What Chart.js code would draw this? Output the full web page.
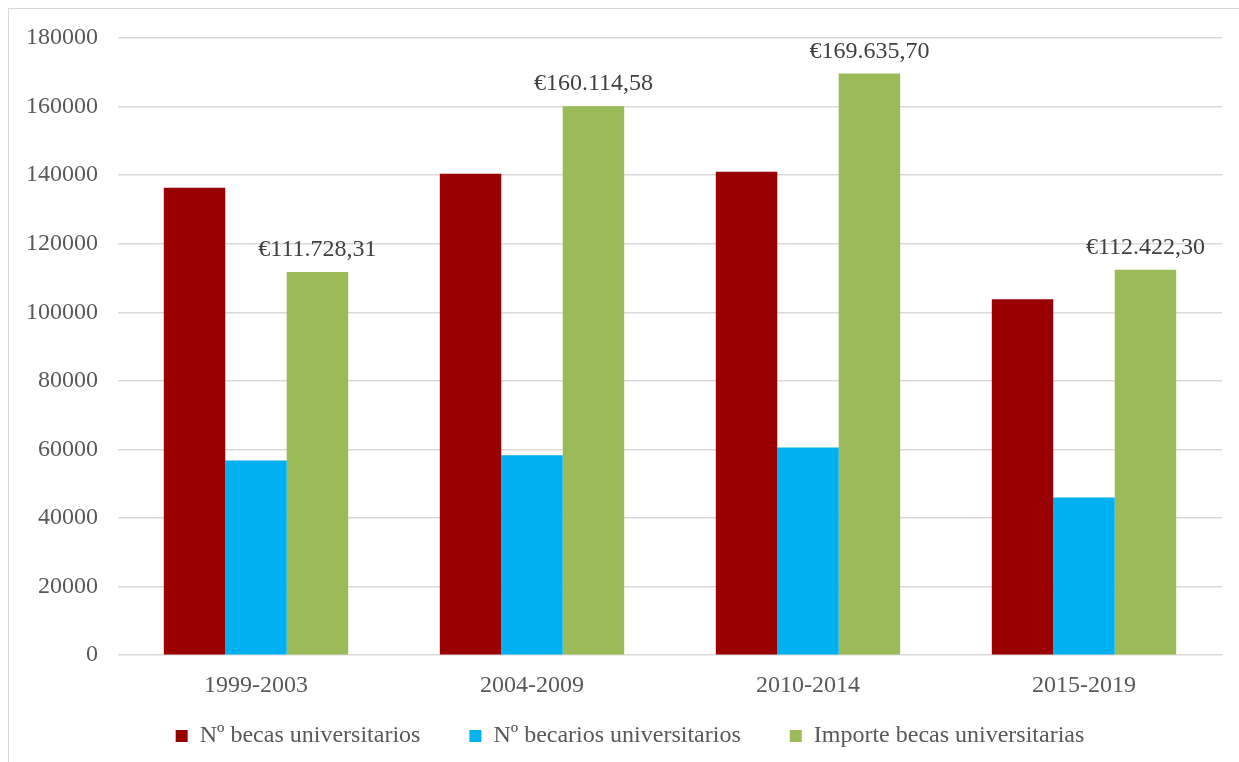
<!DOCTYPE html>
<html>
<head>
<meta charset="utf-8">
<script src="https://cdn.jsdelivr.net/npm/chart.js@4.4.1/dist/chart.umd.min.js"></script>
<style>
  html, body { margin: 0; padding: 0; background: #fff; overflow: hidden; }
  #wrap { position: relative; width: 1239px; height: 762px; }
  #frame { position: absolute; left: 8px; top: 8px; width: 1300px; height: 800px; border: 1.5px solid #d9d9d9; box-sizing: border-box; }
  canvas { position: absolute; left: 0; top: 0; }
</style>
</head>
<body>
<div id="wrap">
  <div id="frame"></div>
  <canvas id="c" width="1239" height="762"></canvas>
</div>
<script>
const categories = ['1999-2003', '2004-2009', '2010-2014', '2015-2019'];
const seriesNames = ['Nº becas universitarios', 'Nº becarios universitarios', 'Importe becas universitarias'];
const becas = [136300, 140400, 141000, 103800];
const becarios = [56800, 58300, 60600, 46000];
const importe = [111728.31, 160114.58, 169635.70, 112422.30];
const importeLabels = ['€111.728,31', '€160.114,58', '€169.635,70', '€112.422,30'];
const yTicks = [0, 20000, 40000, 60000, 80000, 100000, 120000, 140000, 160000, 180000];

const FONT = "'Liberation Serif', 'Times New Roman', serif";

const labelPlugin = {
  id: 'barLabels',
  afterDatasetsDraw(chart) {
    const ctx = chart.ctx;
    const meta = chart.getDatasetMeta(2);
    ctx.save();
    ctx.font = '24px ' + FONT;
    ctx.fillStyle = '#404040';
    ctx.textAlign = 'center';
    ctx.textBaseline = 'alphabetic';
    meta.data.forEach((bar, i) => {
      ctx.fillText(importeLabels[i], bar.x, bar.y - 16);
    });
    ctx.restore();
  }
};

// place the legend row like the reference (centred a little right of the canvas centre)
const legendPlace = {
  id: 'legendPlace',
  afterLayout(chart) {
    const lg = chart.legend;
    if (!lg) return;
    const dx = 19;
    lg.left += dx; lg.right += dx;
    lg.top = 675; lg.bottom = chart.height; lg.height = lg.bottom - lg.top;
  }
};

new Chart(document.getElementById('c'), {
  type: 'bar',
  data: {
    labels: categories,
    datasets: [
      { label: seriesNames[0], data: becas, backgroundColor: '#990000' },
      { label: seriesNames[1], data: becarios, backgroundColor: '#00B0F0' },
      { label: seriesNames[2], data: importe, backgroundColor: '#9BBB59' }
    ]
  },
  options: {
    responsive: false,
    animation: false,
    devicePixelRatio: 1,
    layout: { padding: { left: 0, right: 17, top: 38, bottom: 16 } },
    datasets: { bar: { categoryPercentage: 0.668, barPercentage: 1.0, borderWidth: 0 } },
    scales: {
      x: {
        grid: { display: false, drawTicks: false },
        border: { display: false },
        ticks: { color: '#595959', font: { family: FONT, size: 24 }, padding: 16 }
      },
      y: {
        min: 0, max: 180000,
        afterFit(scale) { scale.width = 118; },
        afterBuildTicks(scale) { scale.ticks = yTicks.map(v => ({ value: v })); },
        grid: { color: '#d9d9d9', lineWidth: 1.5, drawTicks: false },
        border: { display: false },
        ticks: { color: '#595959', font: { family: FONT, size: 24 }, padding: 20, callback: v => String(v) }
      }
    },
    plugins: {
      legend: {
        position: 'bottom',
        maxHeight: 30,
        labels: {
          color: '#595959',
          font: { family: FONT, size: 24 },
          boxWidth: 12, boxHeight: 12,
          padding: 49
        }
      },
      tooltip: { enabled: false }
    }
  },
  plugins: [labelPlugin, legendPlace]
});
</script>
</body>
</html>
